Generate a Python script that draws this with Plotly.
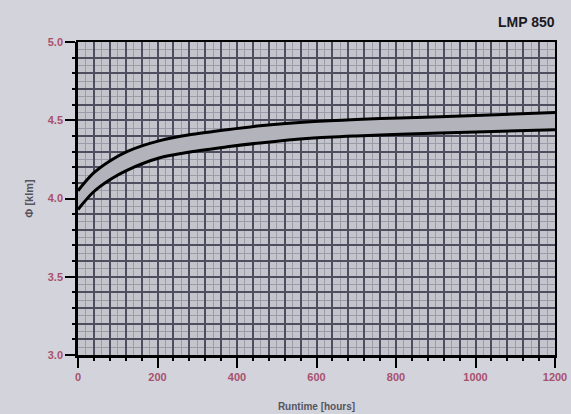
import plotly.graph_objects as go

# Data
hours = [0, 38, 80, 123, 206, 289, 375, 458, 584, 700, 810, 1000, 1200]
upper = [4.05, 4.16, 4.24, 4.30, 4.37, 4.41, 4.44, 4.465, 4.49, 4.505, 4.515, 4.53, 4.55]
lower = [3.93, 4.04, 4.12, 4.18, 4.26, 4.30, 4.33, 4.355, 4.385, 4.40, 4.41, 4.425, 4.44]
x_ticks = [0, 200, 400, 600, 800, 1000, 1200]
y_ticks = [3.0, 3.5, 4.0, 4.5, 5.0]
y_tick_labels = ["3.0", "3.5", "4.0", "4.5", "5.0"]
title_text = "LMP 850"
x_title = "Runtime [hours]"
y_title = "Φ [klm]"

label_color = "#a8506e"
grid_dark = "#4e4e5e"
grid_light = "#9c9ca8"

fig = go.Figure()

fig.add_trace(go.Scatter(x=hours, y=lower, mode="lines",
                         line=dict(color="black", width=3, shape="spline", smoothing=0.8),
                         showlegend=False, hoverinfo="skip"))
fig.add_trace(go.Scatter(x=hours, y=upper, mode="lines",
                         line=dict(color="black", width=3, shape="spline", smoothing=0.8),
                         fill="tonexty", fillcolor="#b3b3bc",
                         showlegend=False, hoverinfo="skip"))
# invisible trace to activate overlay axes
fig.add_trace(go.Scatter(x=[hours[0]], y=[lower[0]], mode="markers", marker=dict(opacity=0),
                         xaxis="x2", yaxis="y2", showlegend=False, hoverinfo="skip"))

tick_font = dict(size=11, color=label_color, family="Liberation Sans, Arial, sans-serif", weight="bold")

fig.update_layout(
    width=571, height=414,
    margin=dict(l=78, r=16, t=42, b=59),
    paper_bgcolor="#d3d3dc",
    plot_bgcolor="#c4c4cd",
    font=dict(family="Liberation Sans, Arial, sans-serif"),
    showlegend=False,
    # base axes: grid only
    xaxis=dict(range=[0, 1200], tickmode="linear", tick0=0, dtick=40, showticklabels=False, ticks="",
               showgrid=True, gridcolor=grid_dark, gridwidth=2, zeroline=False, automargin=False,
               minor=dict(dtick=20, showgrid=True, gridcolor=grid_light, gridwidth=1.3),
               showline=True, linecolor="black", linewidth=2, mirror=True),
    yaxis=dict(range=[3.0, 5.0], tickmode="linear", tick0=3.0, dtick=0.1, showticklabels=False, ticks="",
               showgrid=True, gridcolor=grid_dark, gridwidth=2, zeroline=False, automargin=False,
               minor=dict(dtick=0.05, showgrid=True, gridcolor=grid_light, gridwidth=1.3),
               showline=True, linecolor="black", linewidth=2, mirror=True),
    # overlay axes: ticks and labels
    xaxis2=dict(overlaying="x", anchor="y2", side="bottom", range=[0, 1200], tickvals=x_ticks,
                ticks="outside", ticklen=10, tickwidth=2, tickcolor="black", automargin=False,
                tickfont=tick_font,
                showgrid=False, zeroline=False, showline=True, linecolor="black", linewidth=2.5,
                minor=dict(dtick=40, ticks="outside", ticklen=3, tickcolor="black", tickwidth=1.5, showgrid=False),
                title=dict(text="<b>" + x_title + "</b>", font=dict(size=10, color="#55555f"), standoff=22)),
    yaxis2=dict(overlaying="y", anchor="x2", side="left", range=[3.0, 5.0], tickvals=y_ticks, ticktext=y_tick_labels,
                ticks="outside", ticklen=10, tickwidth=2, tickcolor="black", automargin=False,
                tickfont=tick_font,
                showgrid=False, zeroline=False, showline=True, linecolor="black", linewidth=2.5,
                minor=dict(dtick=0.1, ticks="outside", ticklen=3, tickcolor="black", tickwidth=1.5, showgrid=False),
                title=dict(text="<b>" + y_title + "</b>", font=dict(size=11, color="#55555f"), standoff=12)),
    annotations=[dict(text="<b>" + title_text + "</b>", x=1.0, y=1.0, xref="paper", yref="paper",
                      xanchor="right", yanchor="bottom", yshift=10, xshift=2, showarrow=False,
                      font=dict(size=14, color="#1a1a22"))],
)

fig.write_html("out.html", config={"displayModeBar": False},
               post_script="document.body.style.margin='0px';document.body.style.background='#d3d3dc';")
